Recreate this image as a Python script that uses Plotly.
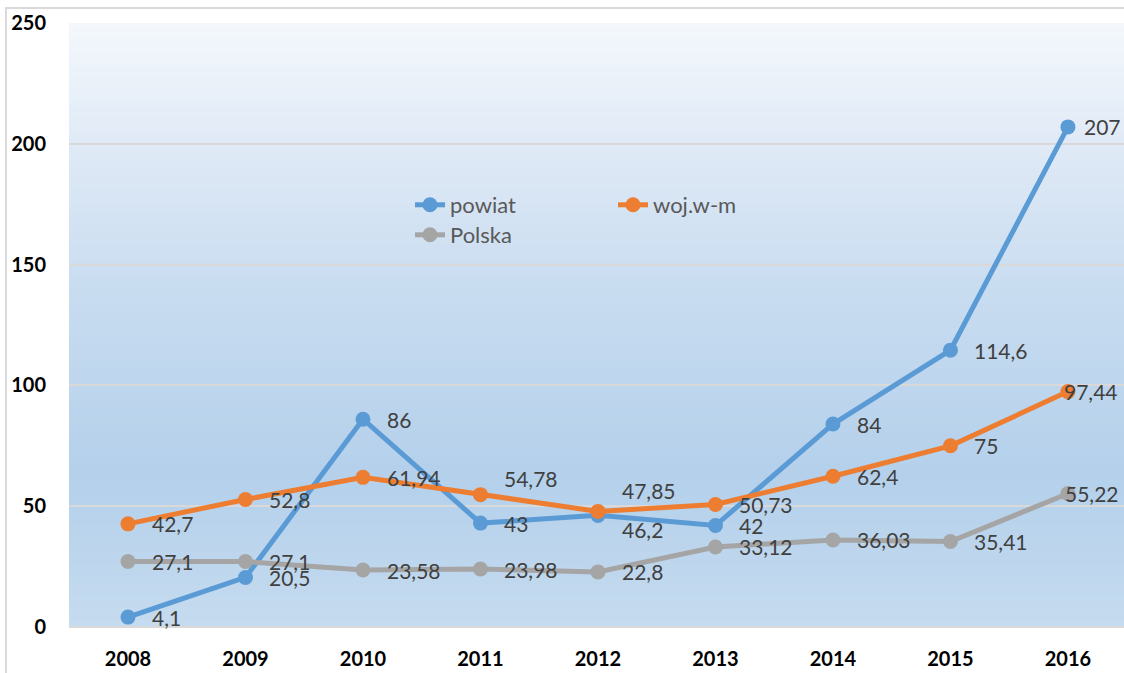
import plotly.graph_objects as go

years = ["2008", "2009", "2010", "2011", "2012", "2013", "2014", "2015", "2016"]
powiat = [4.1, 20.5, 86, 43, 46.2, 42, 84, 114.6, 207]
woj = [42.7, 52.8, 61.94, 54.78, 47.85, 50.73, 62.4, 75, 97.44]
polska = [27.1, 27.1, 23.58, 23.98, 22.8, 33.12, 36.03, 35.41, 55.22]
series_names = ["powiat", "woj.w-m", "Polska"]
colors = ["#5B9BD5", "#ED7D31", "#A5A5A5"]
y_ticks = [0, 50, 100, 150, 200, 250]

FONT = "Lato"

def fmt(v):
    return ("%g" % v).replace(".", ",")

# label offsets (pixels) per series/point: (xshift, yshift)
label_shift = {
    0: {4: (22, -14), 8: (14, 0)},
    1: {3: (22, 16), 4: (22, 21), 8: (-6, 0)},
    2: {8: (-5, 0)},
}

fig = go.Figure()
all_series = [powiat, woj, polska]
for i, (name, vals, col) in enumerate(zip(series_names, all_series, colors)):
    fig.add_trace(go.Scatter(
        x=years, y=vals, name=name, mode="lines+markers",
        line=dict(color=col, width=5),
        marker=dict(color=col, size=15),
        legend="legend" if i < 2 else "legend2",
        cliponaxis=False,
    ))

annotations = []
for i, vals in enumerate(all_series):
    for j, v in enumerate(vals):
        xs, ys = label_shift.get(i, {}).get(j, (22, 0))
        annotations.append(dict(
            x=j, y=v, xref="x", yref="y", text=fmt(v), showarrow=False,
            xanchor="left", yanchor="middle", xshift=xs, yshift=ys,
            font=dict(family=FONT, size=21, color="#404040"),
        ))

# gradient background
stops = [(0.0, (244, 248, 252)), (0.2, (224, 234, 246)), (0.45, (200, 220, 240)),
         (0.75, (180, 208, 235)), (1.0, (197, 219, 239))]

def color_at(t):
    for k in range(len(stops) - 1):
        t0, c0 = stops[k]
        t1, c1 = stops[k + 1]
        if t0 <= t <= t1:
            f = (t - t0) / (t1 - t0)
            c = [round(c0[m] + (c1[m] - c0[m]) * f) for m in range(3)]
            return "rgb(%d,%d,%d)" % tuple(c)
    return "rgb(%d,%d,%d)" % stops[-1][1]

shapes = []
N = 120
for k in range(N):
    y1 = 1 - k / N
    y0 = 1 - (k + 1) / N
    shapes.append(dict(type="rect", xref="paper", yref="paper", x0=0, x1=1,
                       y0=y0, y1=min(1, y1 + 0.002), fillcolor=color_at((k + 0.5) / N),
                       line=dict(width=0), layer="below"))
# outer border
shapes.append(dict(type="rect", xref="paper", yref="paper",
                   x0=(6 - 69) / 1055, x1=(1134 - 69) / 1055,
                   y0=(627 - 685) / 604, y1=(627 - 8) / 604,
                   line=dict(color="#D9D9D9", width=2), fillcolor="rgba(0,0,0,0)", layer="below"))

fig.update_layout(
    width=1124, height=673,
    margin=dict(l=69, r=0, t=23, b=46),
    paper_bgcolor="white", plot_bgcolor="white",
    shapes=shapes, annotations=annotations,
    font=dict(family=FONT),
    xaxis=dict(type="category", range=[-0.502, 8.477], showgrid=False,
               showline=False, ticks="", zeroline=False,
               tickfont=dict(family=FONT, size=20, color="black", weight="bold"),
               ticklabelstandoff=18),
    yaxis=dict(range=[0, 250], tickvals=y_ticks, showgrid=True,
               gridcolor="#D9D9D9", gridwidth=1.5, zeroline=True,
               zerolinecolor="#D9D9D9", zerolinewidth=1.5, showline=False, ticks="",
               tickfont=dict(family=FONT, size=20, color="black", weight="bold"),
               ticklabelstandoff=22),
    legend=dict(orientation="h", x=(410 - 69) / 1055, y=(627 - 184) / 604,
                xanchor="left", yanchor="top", bgcolor="rgba(0,0,0,0)",
                entrywidth=158, entrywidthmode="pixels",
                font=dict(family=FONT, size=22, color="#595959")),
    legend2=dict(orientation="h", x=(410 - 69) / 1055, y=(627 - 214) / 604,
                 xanchor="left", yanchor="top", bgcolor="rgba(0,0,0,0)",
                 font=dict(family=FONT, size=22, color="#595959")),
    showlegend=True,
)

fig.write_html("out.html", config={"displayModeBar": False},
               post_script="document.body.style.margin='0';document.body.style.overflow='hidden';")
